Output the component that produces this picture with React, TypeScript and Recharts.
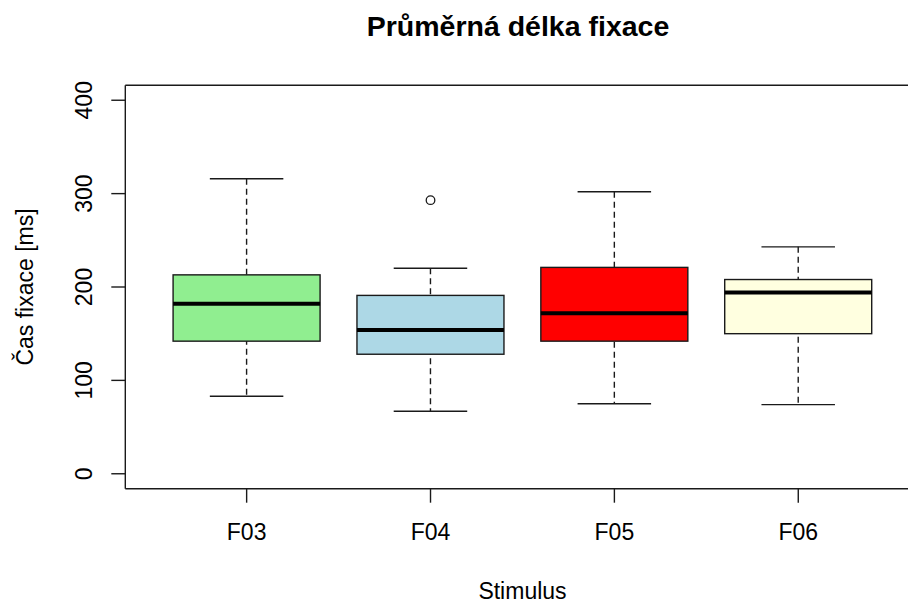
import React from "react";
import {
  ComposedChart, Bar, Scatter, XAxis, YAxis, ReferenceLine,
} from "recharts";

const categories = ["F03", "F04", "F05", "F06"];
const whiskerLow = [83, 67, 75, 74];
const lowerQuartile = [142, 128, 142, 150];
const medians = [182, 154, 172, 194];
const upperQuartile = [213, 191, 221, 208];
const whiskerHigh = [316, 220, 302, 243];
const boxColors = ["#90EE90", "#ADD8E6", "#FF0000", "#FFFFE0"];

const outlierCategories = ["F04"];
const outlierValues = [293];

const yTicks = [0, 100, 200, 300, 400];

const FONT = '"Liberation Sans", Arial, sans-serif';
const INK = "#1a1a1a";

const data = categories.map((name, i) => {
  const k = outlierCategories.indexOf(name);
  return {
    name,
    whisker: [whiskerLow[i], whiskerHigh[i]],
    box: [lowerQuartile[i], upperQuartile[i]],
    toMedian: [lowerQuartile[i], medians[i]],
    outlier: k >= 0 ? outlierValues[k] : null,
    fill: boxColors[i],
  };
});

const span = (y: number, h: number) => [Math.min(y, y + h), Math.max(y, y + h)];

const WhiskerShape = (props: any) => {
  const { x, y, width, height } = props;
  const [top, bottom] = span(y, height);
  const cx = x + width / 2;
  const cap = width / 4;
  return (
    <g stroke={INK} strokeWidth={1.4}>
      <line x1={cx} x2={cx} y1={top} y2={bottom} strokeDasharray="6 4" />
      <line x1={cx - cap} x2={cx + cap} y1={top} y2={top} />
      <line x1={cx - cap} x2={cx + cap} y1={bottom} y2={bottom} />
    </g>
  );
};

const BoxShape = (props: any) => {
  const { x, y, width, height, payload } = props;
  const [top, bottom] = span(y, height);
  return <rect x={x} y={top} width={width} height={bottom - top} fill={payload.fill} stroke={INK} strokeWidth={1.4} />;
};

const MedianShape = (props: any) => {
  const { x, y, width, height } = props;
  const [top] = span(y, height);
  return <line x1={x} x2={x + width} y1={top} y2={top} stroke="#000" strokeWidth={4} />;
};

const OutlierShape = (props: any) => {
  if (props.payload?.outlier == null || !Number.isFinite(props.cy)) return <g />;
  return <circle cx={props.cx} cy={props.cy} r={4.3} fill="none" stroke={INK} strokeWidth={1.3} />;
};

const XTick = ({ x, y, payload }: any) => (
  <text x={x} y={y + 35} textAnchor="middle" fontSize={23} fontFamily={FONT} fill="#000">
    {payload.value}
  </text>
);

const YTick = ({ x, y, payload }: any) => (
  <text
    x={x - 17}
    y={y}
    textAnchor="middle"
    fontSize={23}
    fontFamily={FONT}
    fill="#000"
    transform={`rotate(-90, ${x - 17}, ${y})`}
  >
    {payload.value}
  </text>
);

const pad = { left: 29.4, right: 29.4 };

export default function App() {
  return (
    <div style={{ position: "fixed", left: 0, top: 0, width: 908, height: 603, overflow: "hidden", background: "#fff" }}>
      <ComposedChart
        width={930}
        height={603}
        data={data}
        margin={{ top: 85.3, right: 10.4, bottom: 84.3, left: 55.3 }}
        barCategoryGap="10%"
      >
        <XAxis
          xAxisId="main"
          dataKey="name"
          padding={pad}
          interval={0}
          height={30}
          tickSize={14}
          axisLine={{ stroke: INK, strokeWidth: 1.4 }}
          tickLine={{ stroke: INK, strokeWidth: 1.4 }}
          tick={<XTick />}
        />
        <XAxis xAxisId="b" dataKey="name" padding={pad} height={0} hide />
        <XAxis xAxisId="m" dataKey="name" padding={pad} height={0} hide />
        <YAxis
          type="number"
          domain={[-16, 416]}
          ticks={yTicks}
          width={70}
          tickSize={14}
          axisLine={{ stroke: INK, strokeWidth: 1.4 }}
          tickLine={{ stroke: INK, strokeWidth: 1.4 }}
          tick={<YTick />}
        />
        <ReferenceLine xAxisId="main" y={416} stroke={INK} strokeWidth={1.4} />
        <Bar xAxisId="main" dataKey="whisker" shape={<WhiskerShape />} isAnimationActive={false} />
        <Bar xAxisId="b" dataKey="box" shape={<BoxShape />} isAnimationActive={false} />
        <Bar xAxisId="m" dataKey="toMedian" shape={<MedianShape />} isAnimationActive={false} />
        <Scatter xAxisId="main" dataKey="outlier" shape={<OutlierShape />} isAnimationActive={false} />
      </ComposedChart>
      <svg width={908} height={603} style={{ position: "absolute", left: 0, top: 0, pointerEvents: "none" }}>
        <text x={518} y={36} textAnchor="middle" fontSize={28.5} fontWeight="bold" fontFamily={FONT} fill="#000">
          Průměrná délka fixace
        </text>
        <text x={522.5} y={599} textAnchor="middle" fontSize={23} fontFamily={FONT} fill="#000">
          Stimulus
        </text>
        <text
          x={33}
          y={287}
          textAnchor="middle"
          fontSize={23}
          fontFamily={FONT}
          fill="#000"
          transform="rotate(-90, 33, 287)"
        >
          Čas fixace [ms]
        </text>
      </svg>
    </div>
  );
}
